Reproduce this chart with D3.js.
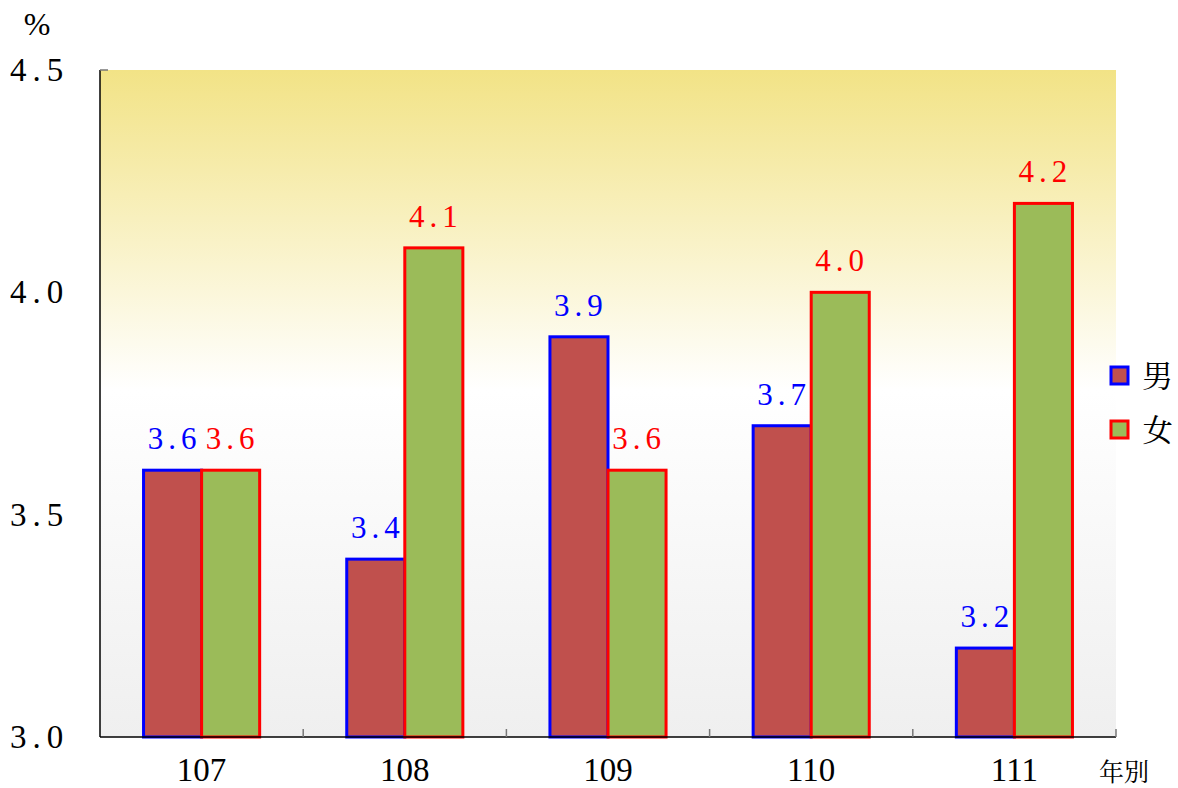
<!DOCTYPE html>
<html><head><meta charset="utf-8">
<script src="https://cdn.jsdelivr.net/npm/d3@7"></script>
<style>body{margin:0;background:#fff}</style>
</head><body>
<svg id="c" width="1178" height="788"></svg>
<script>
const categories = ["107","108","109","110","111"];
const seriesNames = ["男","女"];
const maleValues = [3.6,3.4,3.9,3.7,3.2];
const femaleValues = [3.6,4.1,3.6,4.0,4.2];
const yTicks = [3.0,3.5,4.0,4.5];

const fills = ["#C0504D","#9BBB59"];
const strokes = ["#0000FF","#FF0000"];
const SF = '"Liberation Serif"';
const CJ = '"Noto Serif CJK TC"';

const svg = d3.select("#c");
const L=100,R=1116,T=70,B=737;
const x = d3.scaleBand().domain(categories).range([L,R]).paddingInner(0).paddingOuter(0);
const xs = d3.scaleBand().domain([0,1]).range([0,x.bandwidth()]).paddingInner(0).paddingOuter(0.75);
const y = d3.scaleLinear().domain([3.0,4.5]).range([B,T]);

const defs = svg.append("defs");
const g = defs.append("linearGradient").attr("id","bg").attr("x1",0).attr("x2",0).attr("y1",0).attr("y2",1);
g.append("stop").attr("offset","0%").attr("stop-color","#F2E386");
g.append("stop").attr("offset","48%").attr("stop-color","#FFFFFF");
g.append("stop").attr("offset","100%").attr("stop-color","#EFEFEF");
svg.append("rect").attr("x",L).attr("y",T).attr("width",R-L).attr("height",B-T).attr("fill","url(#bg)");

const data = categories.map((c,i)=>({c, v:[maleValues[i],femaleValues[i]]}));
data.forEach(d=>{
  d.v.forEach((v,j)=>{
    const bx = x(d.c)+xs(j);
    svg.append("rect").attr("x",bx).attr("y",y(v)).attr("width",xs.bandwidth()).attr("height",y(3.0)-y(v))
      .attr("fill",fills[j]).attr("stroke",strokes[j]).attr("stroke-width",3);
    svg.append("text").attr("x",bx+xs.bandwidth()/2+2).attr("y",y(v)-21)
      .attr("text-anchor","middle").attr("fill",strokes[j])
      .style("font-family",SF).style("font-size","31px").style("letter-spacing","5px")
      .text(v.toFixed(1));
  });
});

// x axis
svg.append("line").attr("x1",L).attr("x2",R).attr("y1",B).attr("y2",B).attr("stroke","#000").attr("stroke-width",1.5);
categories.forEach((c,i)=>{
  if(i>0) svg.append("line").attr("x1",x(c)).attr("x2",x(c)).attr("y1",B).attr("y2",B-8).attr("stroke","#777").attr("stroke-width",1.5);
  svg.append("text").attr("x",x(c)+x.bandwidth()/2).attr("y",781).attr("text-anchor","middle")
    .style("font-family",SF).style("font-size","33px").text(c);
});
svg.append("line").attr("x1",R).attr("x2",R).attr("y1",B).attr("y2",B-8).attr("stroke","#777").attr("stroke-width",1.5);
// y axis
svg.append("line").attr("x1",L).attr("x2",L).attr("y1",T).attr("y2",B).attr("stroke","#000").attr("stroke-width",1.5);
svg.append("line").attr("x1",L).attr("x2",L+8).attr("y1",T).attr("y2",T).attr("stroke","#777").attr("stroke-width",1.5);
yTicks.forEach(t=>{
  svg.append("text").attr("x",10).attr("y",y(t)+11)
    .style("font-family",SF).style("font-size","33px").style("letter-spacing","6px").text(t.toFixed(1));
});
svg.append("text").attr("x",37).attr("y",35).attr("text-anchor","middle")
  .style("font-family",SF).style("font-size","32px").text("%");
svg.append("text").attr("x",1099).attr("y",781)
  .style("font-family",CJ).style("font-size","25px").text("年別");

// legend
seriesNames.forEach((n,j)=>{
  const ly = 375 + j*54;
  svg.append("rect").attr("x",1111).attr("y",ly-8).attr("width",17).attr("height",17)
    .attr("fill",fills[j]).attr("stroke",strokes[j]).attr("stroke-width",3);
  svg.append("text").attr("x",1142).attr("y",ly+12)
    .style("font-family",CJ).style("font-size","31px").text(n);
});
</script>
</body></html>
